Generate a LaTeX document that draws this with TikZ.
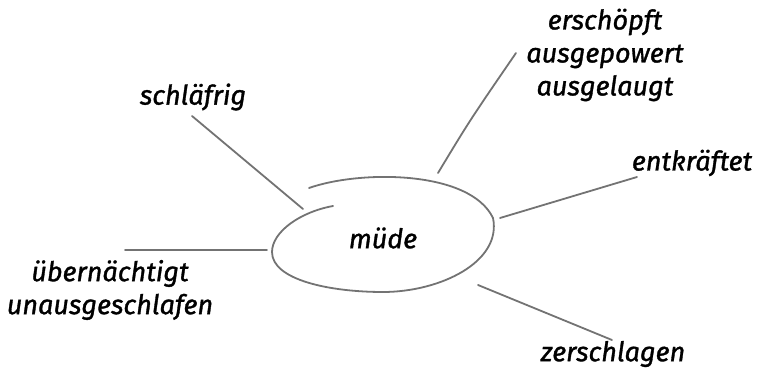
\documentclass[tikz,border=0pt]{standalone}
\usepackage{fontspec}
\setmainfont{Fira Sans}[ItalicFeatures={FakeBold=1.2}]
\begin{document}
\begin{tikzpicture}[x=1pt,y=-1pt,
  word/.style={font=\itshape\fontsize{27}{33}\selectfont, text=black, align=center, inner sep=0pt},
  pencil/.style={draw=black!55, line width=1.8pt, line cap=round}]
\useasboundingbox (0,0) rectangle (766,371);
% central ellipse (hand drawn, two strokes)
\coordinate (c) at (383,235);
\draw[pencil] (309,188) .. controls (360,170) and (470,170) .. (493,218)
  .. controls (502,262) and (440,292) .. (383,292)
  .. controls (330,292) and (272,280) .. (272,252)
  .. controls (272,232) and (300,212) .. (333,206);
\node[word] (mude) at (383,238) {müde};
% labels
\node[word] (schl) at (193,97) {schläfrig};
\node[word] (ersch) at (605,55) {erschöpft\\ausgepowert\\ausgelaugt};
\node[word] (entk) at (692,163) {entkräftet};
\node[word] (uebern) at (110,290) {übernächtigt\\unausgeschlafen};
\node[word] (zersch) at (613,354) {zerschlagen};
% connector ends
\coordinate (s1) at (303,209); \coordinate (s2) at (192,116);
\coordinate (e1) at (438,173); \coordinate (e2) at (516,53);
\coordinate (k1) at (500,218); \coordinate (k2) at (637,177);
\coordinate (u1) at (267,250); \coordinate (u2) at (125,250);
\coordinate (z1) at (478,285); \coordinate (z2) at (612,340);
\draw[pencil] (s1) -- (s2);
\draw[pencil] (e1) .. controls (470,120) .. (e2);
\draw[pencil] (k1) -- (k2);
\draw[pencil] (u1) -- (u2);
\draw[pencil] (z1) -- (z2);
\end{tikzpicture}
\end{document}
